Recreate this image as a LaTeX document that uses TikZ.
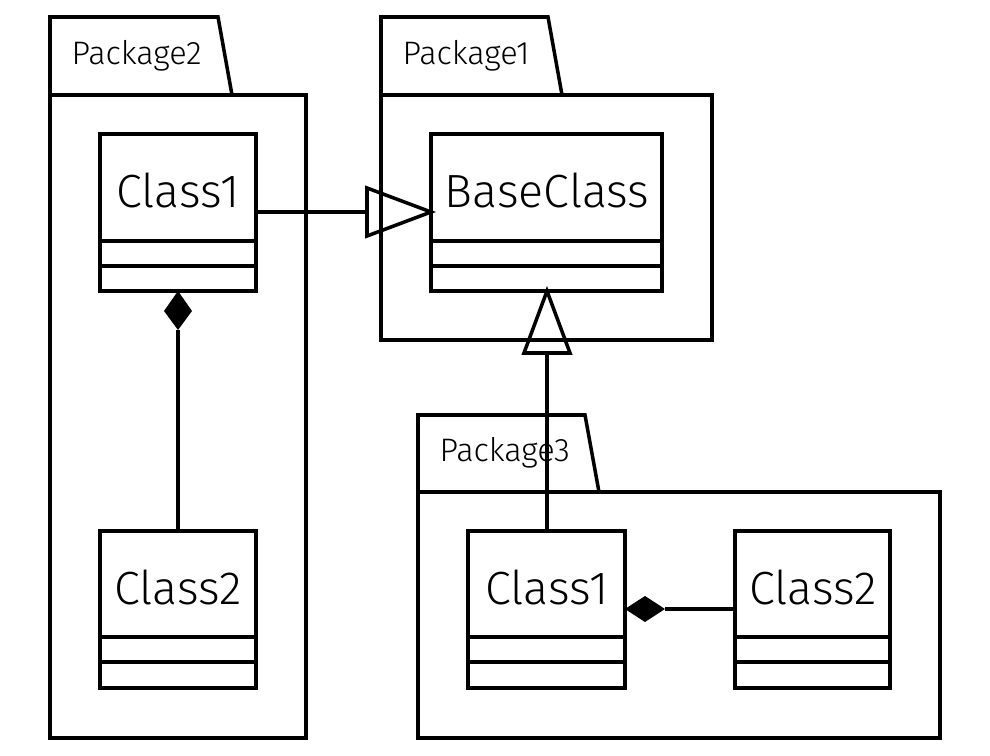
\documentclass[tikz,border=0pt]{standalone}
\usepackage{fontspec}
\setmainfont{Fira Sans}[UprightFont=* Light]
\begin{document}
\begin{tikzpicture}[x=0.02cm,y=-0.02cm,line width=2pt,
  pkgline/.style={draw=black,line join=miter},
  classname/.style={font=\fontsize{26.5}{30}\selectfont},
  pkgname/.style={font=\fontsize{18.5}{22}\selectfont,anchor=west}]
\useasboundingbox (0,0) rectangle (990,756);

% ---- packages (tab + body) ----
% Package2
\draw[pkgline] (50,95) -- (50,17) -- (218,17) -- (232,95);
\draw[pkgline] (50,95) rectangle (306,738);
\node[pkgname] (p2) at (64,56) {Package2};
% Package1
\draw[pkgline] (381,95) -- (381,17) -- (548,17) -- (562,95);
\draw[pkgline] (381,95) rectangle (712,340);
\node[pkgname] (p1) at (395,56) {Package1};
% Package3
\draw[pkgline] (418,492) -- (418,415) -- (585,415) -- (599,492);
\draw[pkgline] (418,492) rectangle (940,738);
\node[pkgname] (p3) at (432,453) {Package3};

% ---- classes ----
% Package2 / Class1
\draw (100,134) rectangle (256,291);
\draw (100,241) -- (256,241) (100,266) -- (256,266);
\node[classname] (a1) at (178,190) {Class1};
\coordinate (a1r) at (256,212);
\coordinate (a1b) at (178,291);
% Package2 / Class2
\draw (100,531) rectangle (256,688);
\draw (100,637) -- (256,637) (100,662) -- (256,662);
\node[classname] (a2) at (178,587) {Class2};
\coordinate (a2t) at (178,531);
% Package1 / BaseClass
\draw (431,134) rectangle (662,291);
\draw (431,241) -- (662,241) (431,266) -- (662,266);
\node[classname] (bc) at (547,190) {BaseClass};
\coordinate (bcl) at (431,212);
\coordinate (bcb) at (547,291);
% Package3 / Class1
\draw (468,531) rectangle (625,688);
\draw (468,637) -- (625,637) (468,662) -- (625,662);
\node[classname] (b1) at (547,587) {Class1};
\coordinate (b1t) at (547,531);
\coordinate (b1r) at (625,609);
% Package3 / Class2
\draw (735,531) rectangle (890,688);
\draw (735,637) -- (890,637) (735,662) -- (890,662);
\node[classname] (b2) at (813,587) {Class2};
\coordinate (b2l) at (735,609);

% ---- connectors ----
% generalization Class1 -> BaseClass
\draw (a1r) -- (367,212);
\draw[line join=miter] (bcl) -- (367,188) -- (367,236) -- cycle;
% generalization Package3/Class1 -> BaseClass
\draw (b1t) -- (547,353);
\draw[line join=miter] (bcb) -- (524,353) -- (570,353) -- cycle;
% composition Class2 -> Class1 (Package2)
\fill (a1b) -- (192,311) -- (178,330) -- (164,311) -- cycle;
\draw (178,330) -- (a2t);
% composition Class2 -> Class1 (Package3)
\fill (b1r) -- (645,596) -- (665,609) -- (645,622) -- cycle;
\draw (665,609) -- (b2l);
\end{tikzpicture}
\end{document}
